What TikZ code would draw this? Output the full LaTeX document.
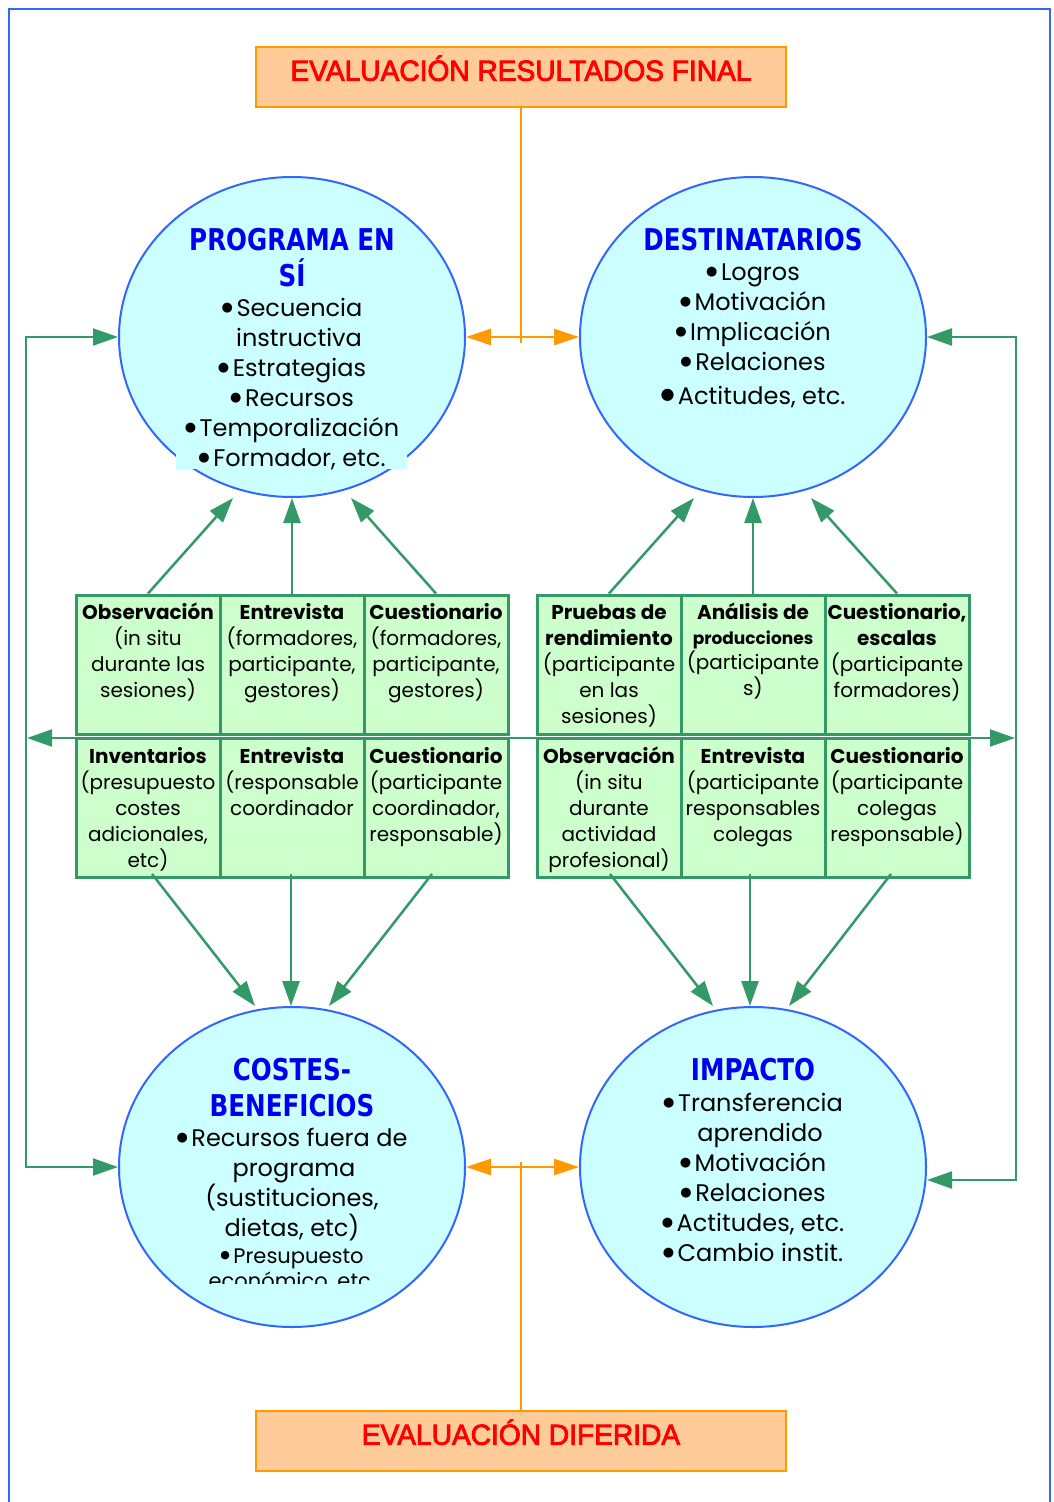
\documentclass[tikz,border=0pt]{standalone}
\usepackage{fontspec}
\setmainfont{Poppins}
\newfontfamily\headfont[FakeStretch=0.82]{DejaVu Sans}
\newfontfamily\boxfont[FakeStretch=0.97,FakeBold=3]{Liberation Sans}
\newfontfamily\dotfont{DejaVu Sans}
\usetikzlibrary{shapes.geometric,arrows.meta,calc}

\definecolor{ellfill}{HTML}{CCFFFF}
\definecolor{ellline}{HTML}{3366FF}
\definecolor{cellfill}{HTML}{CCFFCC}
\definecolor{cellline}{HTML}{339966}
\definecolor{orfill}{HTML}{FFCC99}
\definecolor{orline}{HTML}{FF9900}
\definecolor{titleblue}{HTML}{0000EE}
\definecolor{evalred}{HTML}{FF0000}

% strut that fixes the top of every text block
\newcommand{\topstrut}{\rule{0pt}{0.95em}}
% round list bullet, optional size in pt
\newcommand{\bul}[1][13]{\raisebox{5.3pt}{\dotfont\fontsize{#1}{#1}\selectfont ●}\hspace{3.5pt}}

\tikzset{
  evalbox/.style={draw=orline, fill=orfill, line width=2.5pt,
    minimum width=530pt, minimum height=60pt, inner sep=0pt},
  evaltext/.style={anchor=north, inner sep=0pt, text=evalred,
    font={\boxfont\fontsize{29}{34}\selectfont}},
  ell/.style={ellipse, draw=ellline, fill=ellfill, line width=2pt,
    minimum width=346pt, minimum height=320pt, inner sep=0pt},
  elltitle/.style={anchor=north, inner sep=0pt, align=center, text=titleblue,
    font={\headfont\bfseries\fontsize{30}{36}\selectfont}},
  ellbody/.style={anchor=north, inner sep=0pt, align=center,
    font={\fontsize{24}{30}\selectfont}},
  cell/.style={draw=cellline, fill=cellfill, line width=3pt,
    minimum width=144pt, minimum height=139pt, inner sep=0pt},
  celltext/.style={anchor=north, inner sep=0pt, align=center,
    font={\fontsize{20}{26}\selectfont}},
  gtip/.tip={Triangle[length=25pt,width=17pt]},
  otip/.tip={Triangle[length=25pt,width=16pt]},
  garrow/.style={draw=cellline, line width=2.5pt, -gtip},
  grail/.style={draw=cellline, line width=2.2pt, gtip-gtip},
  oline/.style={draw=orline, line width=2.2pt},
  oarrow/.style={draw=orline, line width=2.5pt, otip-otip},
}

\begin{document}
\begin{tikzpicture}[x=1pt,y=-1pt]
\useasboundingbox (0,0) rectangle (1053,1502);
\fill[white] (0,0) rectangle (1053,1502);

% page frame
\draw[ellline, line width=1.5pt] (9,1502) -- (9,9) -- (1050,9) -- (1050,1502);

% evaluation boxes
\node[evalbox] (top) at (521,77) {};
\node[evaltext] (toptxt) at (521,53) {\topstrut EVALUACIÓN RESULTADOS FINAL};
\node[evalbox] (bot) at (521,1441) {};
\node[evaltext] (bottxt) at (521,1417) {\topstrut EVALUACIÓN DIFERIDA};

% the four evaluation fields
\node[ell] (P) at (292,337) {};
\node[ell] (D) at (753,337) {};
\node[ell] (C) at (292,1167) {};
\node[ell] (I) at (753,1167) {};
\fill[ellfill] (176,446) rectangle (407,469);

% orange links between the fields and the boxes
\coordinate (topjoin) at (521,343);
\coordinate (botjoin) at (521,1162);
\draw[oline] (top.south) -- (topjoin);
\draw[oline] (bot.north) -- (botjoin);
\draw[oarrow] (P.east) -- (D.west);
\draw[oarrow] (C.east) -- (I.west);

% field texts
\node[elltitle] (Pt) at (292,221.5) {\topstrut PROGRAMA EN\\SÍ};
\node[ellbody] (Pb) at (292,293.7) {\topstrut \bul Secuencia\\
  \hspace*{14pt}instructiva\\ \bul Estrategias\\ \bul Recursos\\ \bul Temporalización\\ \bul Formador, etc.};

\node[elltitle] (Dt) at (753,221.5) {\topstrut DESTINATARIOS};
\node[ellbody] (Db) at (753,257.7) {\topstrut \bul Logros\\ \bul Motivación\\ \bul Implicación\\
  \bul Relaciones\\[4pt] \bul[16]Actitudes, etc.};

\node[elltitle] (Ct) at (292,1051.5) {\topstrut COSTES-\\BENEFICIOS};
\begin{scope}
  \clip (150,1100) rectangle (440,1283);
  \node[ellbody] (Cb) at (292,1123.7) {\topstrut \bul Recursos fuera de\\
    \hspace*{4pt}programa\\ (sustituciones,\\ dietas, etc)\\[-3pt]
    {\fontsize{21}{25}\selectfont \bul[11]Presupuesto}\\[-5pt]
    {\fontsize{21}{25}\selectfont económico, etc.}};
\end{scope}

\node[elltitle] (It) at (753,1051.5) {\topstrut IMPACTO};
\node[ellbody] (Ib) at (753,1088.7) {\topstrut \bul Transferencia\\
  \hspace*{14pt}aprendido\\ \bul Motivación\\ \bul Relaciones\\ \bul Actitudes, etc.\\ \bul Cambio instit.};

% outer rails
\coordinate (lrailT) at ($(P.west)+(-92,0)$);
\coordinate (rrailT) at ($(D.east)+(89,0)$);
\coordinate (Iin) at ($(I.east)+(0,13)$);
\draw[grail] (P.west) -- (lrailT) -- (lrailT |- C.west) -- (C.west);
\draw[grail] (D.east) -- (rrailT) -- (rrailT |- Iin) -- (Iin);
\coordinate (midL) at (27,738);
\coordinate (midR) at (1015,738);
\draw[grail, line width=2pt] (midL) -- (midR);

% instrument tables
\node[cell] (tl1) at (148,664.5) {};
\node[cell] (tl2) at (292,664.5) {};
\node[cell] (tl3) at (436,664.5) {};
\node[cell] (bl1) at (148,808) {};
\node[cell] (bl2) at (292,808) {};
\node[cell] (bl3) at (436,808) {};
\node[cell] (tr1) at (609,664.5) {};
\node[cell] (tr2) at (753,664.5) {};
\node[cell] (tr3) at (897,664.5) {};
\node[cell] (br1) at (609,808) {};
\node[cell] (br2) at (753,808) {};
\node[cell] (br3) at (897,808) {};

\node[celltext] (tl1t) at (148,600) {\topstrut\textbf{Observación}\\ (in situ\\ durante las\\ sesiones)};
\node[celltext] (tl2t) at (292,600) {\topstrut\textbf{Entrevista}\\ (formadores,\\ participante,\\ gestores)};
\node[celltext] (tl3t) at (436,600) {\topstrut\textbf{Cuestionario}\\ (formadores,\\ participante,\\ gestores)};
\node[celltext] (bl1t) at (148,744) {\topstrut\textbf{Inventarios}\\ (presupuesto\\ costes\\ adicionales,\\ etc)};
\node[celltext] (bl2t) at (292,744) {\topstrut\textbf{Entrevista}\\ (responsable\\ coordinador};
\node[celltext] (bl3t) at (436,744) {\topstrut\textbf{Cuestionario}\\ (participante\\ coordinador,\\ responsable)};

\node[celltext] (tr1t) at (609,600) {\topstrut\textbf{Pruebas de}\\ \textbf{rendimiento}\\ (participante\\ en las\\ sesiones)};
\node[celltext] (tr2t) at (753,600) {\topstrut\textbf{Análisis de}\\[-1pt] {\fontsize{17}{20}\selectfont\textbf{producciones}}\\[-1pt] (participante\\ s)};
\node[celltext] (tr3t) at (897,600) {\topstrut\textbf{Cuestionario,}\\ \textbf{escalas}\\ (participante\\ formadores)};
\node[celltext] (br1t) at (609,744) {\topstrut\textbf{Observación}\\ (in situ\\ durante\\ actividad\\ profesional)};
\node[celltext] (br2t) at (753,744) {\topstrut\textbf{Entrevista}\\ (participante\\ responsables\\ colegas};
\node[celltext] (br3t) at (897,744) {\topstrut\textbf{Cuestionario}\\ (participante\\ colegas\\ responsable)};

% instruments feeding the fields
\draw[garrow] (tl1.north) -- ($(P.south)+(-59,0)$);
\draw[garrow] (tl2.north) -- (P.south);
\draw[garrow] (tl3.north) -- ($(P.south)+(59,0)$);
\draw[garrow] (tr1.north) -- ($(D.south)+(-59,0)$);
\draw[garrow] (tr2.north) -- (D.south);
\draw[garrow] (tr3.north) -- ($(D.south)+(58,0)$);
\draw[garrow] ($(bl1.south)+(4,-5)$) -- ($(C.north)+(-37,0)$);
\draw[garrow] ($(bl2.south)+(-1,-5)$) -- ($(C.north)+(-1,0)$);
\draw[garrow] ($(bl3.south)+(-4,-5)$) -- ($(C.north)+(37,0)$);
\draw[garrow] ($(br1.south)+(1,-5)$) -- ($(I.north)+(-40,0)$);
\draw[garrow] ($(br2.south)+(-3,-5)$) -- ($(I.north)+(-3,0)$);
\draw[garrow] ($(br3.south)+(-6,-5)$) -- ($(I.north)+(36,0)$);
\end{tikzpicture}
\end{document}
